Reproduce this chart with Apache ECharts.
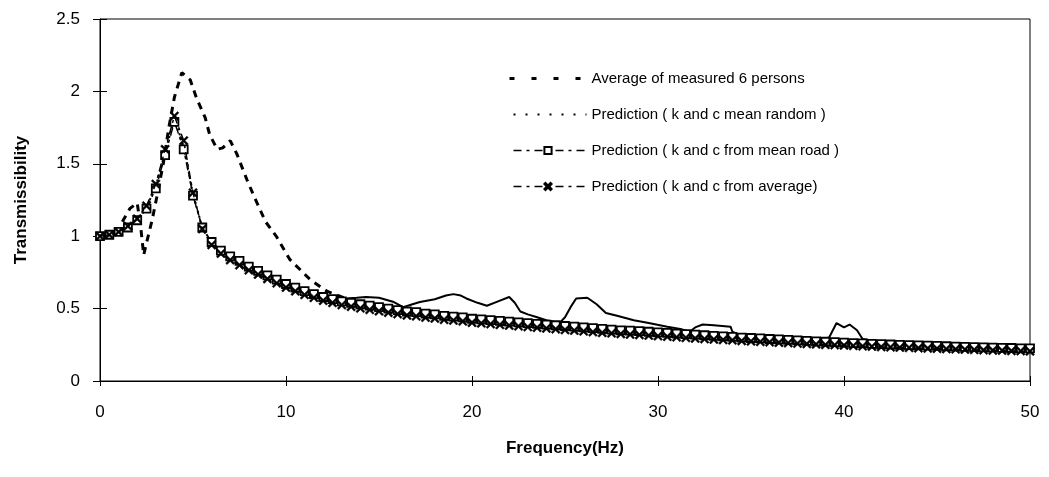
<!DOCTYPE html>
<html>
<head>
<meta charset="utf-8">
<title>Transmissibility</title>
<script src="https://cdn.jsdelivr.net/npm/echarts@6/dist/echarts.min.js"></script>
<style>
  html, body { margin: 0; padding: 0; background: #fff; }
  #chart { width: 1049px; height: 477px; }
</style>
</head>
<body>
<div id="chart"></div>
<script>
// Frequency grid (Hz) shared by the three predicted curves
const freq = [];
for (let i = 0; i <= 100; i++) freq.push(i / 2);

// Prediction (k and c mean random)
const predRandom = [
  1.00, 1.01, 1.03, 1.065, 1.115, 1.20, 1.345, 1.58, 1.81, 1.62,
  1.29, 1.06, 0.955, 0.895, 0.853, 0.82, 0.783, 0.752, 0.722, 0.692,
  0.662, 0.638, 0.612, 0.592, 0.572, 0.557, 0.542, 0.532, 0.522, 0.512,
  0.502, 0.492, 0.482, 0.472, 0.467, 0.457, 0.452, 0.442, 0.437, 0.432,
  0.422, 0.417, 0.412, 0.407, 0.402, 0.397, 0.392, 0.387, 0.382, 0.377,
  0.372, 0.367, 0.362, 0.357, 0.352, 0.347, 0.343, 0.340, 0.337, 0.333,
  0.329, 0.325, 0.321, 0.317, 0.313, 0.309, 0.305, 0.301, 0.298, 0.294,
  0.291, 0.288, 0.284, 0.281, 0.278, 0.275, 0.272, 0.269, 0.266, 0.263,
  0.260, 0.257, 0.255, 0.252, 0.250, 0.247, 0.245, 0.243, 0.241, 0.239,
  0.237, 0.235, 0.233, 0.231, 0.229, 0.227, 0.225, 0.224, 0.223, 0.221,
  0.220
];

// Prediction (k and c from mean road)
const predMeanRoad = [
  1.00, 1.01, 1.03, 1.06, 1.11, 1.19, 1.33, 1.56, 1.79, 1.60,
  1.28, 1.06, 0.96, 0.90, 0.86, 0.83, 0.79, 0.76, 0.73, 0.70,
  0.67, 0.645, 0.62, 0.60, 0.58, 0.565, 0.55, 0.54, 0.53, 0.52,
  0.51, 0.50, 0.49, 0.48, 0.475, 0.465, 0.46, 0.45, 0.445, 0.44,
  0.43, 0.425, 0.42, 0.415, 0.41, 0.405, 0.40, 0.395, 0.39, 0.385,
  0.38, 0.375, 0.37, 0.365, 0.36, 0.355, 0.35, 0.348, 0.345, 0.34,
  0.336, 0.332, 0.328, 0.324, 0.32, 0.316, 0.312, 0.308, 0.305, 0.30,
  0.297, 0.294, 0.29, 0.287, 0.284, 0.28, 0.277, 0.274, 0.271, 0.268,
  0.265, 0.262, 0.26, 0.257, 0.255, 0.252, 0.25, 0.248, 0.246, 0.244,
  0.242, 0.24, 0.238, 0.236, 0.234, 0.232, 0.23, 0.229, 0.228, 0.226,
  0.225
];

// Prediction (k and c from average)
const predAverage = [
  1.00, 1.01, 1.03, 1.07, 1.12, 1.21, 1.36, 1.60, 1.83, 1.66,
  1.30, 1.05, 0.94, 0.88, 0.835, 0.80, 0.765, 0.735, 0.705, 0.675,
  0.645, 0.62, 0.595, 0.575, 0.555, 0.54, 0.525, 0.513, 0.502, 0.492,
  0.482, 0.472, 0.462, 0.453, 0.447, 0.438, 0.432, 0.423, 0.418, 0.412,
  0.403, 0.398, 0.393, 0.388, 0.383, 0.378, 0.373, 0.368, 0.363, 0.358,
  0.353, 0.348, 0.343, 0.338, 0.333, 0.329, 0.325, 0.321, 0.318, 0.314,
  0.310, 0.306, 0.302, 0.298, 0.294, 0.290, 0.287, 0.284, 0.281, 0.277,
  0.274, 0.271, 0.268, 0.265, 0.262, 0.259, 0.256, 0.253, 0.250, 0.248,
  0.246, 0.243, 0.240, 0.238, 0.235, 0.233, 0.231, 0.229, 0.227, 0.225,
  0.223, 0.221, 0.219, 0.217, 0.215, 0.213, 0.211, 0.210, 0.208, 0.207,
  0.205
];

// Average of measured 6 persons: low-frequency part (coarse spectral lines)
const measuredLow = [
  [1.2, 1.10], [1.6, 1.19], [2.0, 1.23], [2.2, 1.05], [2.35, 0.87],
  [2.55, 0.98], [2.8, 1.11], [3.1, 1.30], [3.4, 1.50], [3.7, 1.75],
  [4.0, 1.96], [4.4, 2.13], [4.85, 2.08], [5.2, 1.95], [5.65, 1.82],
  [5.9, 1.70], [6.3, 1.60], [6.6, 1.61], [7.0, 1.66], [7.35, 1.57],
  [7.9, 1.39], [8.3, 1.27], [8.9, 1.10], [9.5, 0.995], [10.2, 0.84],
  [11.3, 0.70], [12.2, 0.62], [13.2, 0.57]
];

// Average of measured 6 persons: upper band (dense spectral lines)
const measuredHigh = [
  [13.2, 0.57], [13.8, 0.575], [14.3, 0.58], [15.0, 0.575], [15.8, 0.545],
  [16.3, 0.51], [16.8, 0.53], [17.2, 0.545], [18.0, 0.565], [18.6, 0.59],
  [19.0, 0.60], [19.4, 0.59], [19.7, 0.57], [20.3, 0.54], [20.8, 0.52],
  [21.4, 0.55], [22.0, 0.58], [22.3, 0.54], [22.6, 0.48], [23.0, 0.46],
  [23.5, 0.44], [24.0, 0.42], [24.7, 0.40], [25.0, 0.44], [25.3, 0.51],
  [25.6, 0.57], [26.2, 0.575], [26.7, 0.53], [27.2, 0.47], [27.8, 0.45],
  [28.7, 0.42], [29.5, 0.40], [30.5, 0.375], [31.2, 0.36], [31.7, 0.34],
  [32.0, 0.37], [32.4, 0.39], [33.0, 0.385], [33.9, 0.375], [34.0, 0.34],
  [34.5, 0.31], [35.5, 0.30], [36.5, 0.29], [37.5, 0.285], [38.5, 0.28],
  [39.2, 0.30], [39.6, 0.40], [40.0, 0.37], [40.3, 0.39], [40.7, 0.35],
  [41.0, 0.29], [42.0, 0.27], [43.0, 0.26], [44.0, 0.255], [45.0, 0.25],
  [46.0, 0.245], [47.0, 0.24], [48.0, 0.24], [49.0, 0.235], [50.0, 0.235]
];

const seriesNames = [
  'Average of measured 6 persons',
  'Prediction ( k and c mean random )',
  'Prediction ( k and c from mean road )',
  'Prediction ( k and c from average)'
];

const xTicks = { min: 0, max: 50, interval: 10 };
const yTicks = { min: 0, max: 2.5, interval: 0.5 };

const FONT = '"Liberation Sans", Arial, sans-serif';
const CROSS = 'path://M0,1.5 L1.5,0 L5,3.5 L8.5,0 L10,1.5 L6.5,5 L10,8.5 L8.5,10 L5,6.5 L1.5,10 L0,8.5 L3.5,5 Z';
const NO_MARK = { color: 'rgba(0,0,0,0)', borderWidth: 0, opacity: 0 };

const pairs = (ys) => freq.map((f, i) => [f, ys[i]]);

const chart = echarts.init(document.getElementById('chart'), null, { renderer: 'canvas' });

const axisCommon = {
  type: 'value',
  axisLine: { show: true, onZero: false, lineStyle: { color: '#000', width: 1 } },
  splitLine: { show: false }
};

chart.setOption({
  backgroundColor: '#fff',
  animation: false,
  textStyle: { fontFamily: FONT, color: '#000' },
  grid: {
    left: 100, right: 19, top: 19, bottom: 96,
    show: true, borderColor: '#000', borderWidth: 1, backgroundColor: 'transparent'
  },
  legend: {
    orient: 'vertical',
    left: 503, top: 66,
    itemWidth: 77, itemHeight: 9, itemGap: 21,
    textStyle: { fontSize: 15, color: '#000', fontFamily: FONT },
    data: [
      { name: seriesNames[0], lineStyle: { type: [5, 17], width: 3 }, itemStyle: NO_MARK },
      { name: seriesNames[1], lineStyle: { type: [2, 10], width: 2, dashOffset: -4 }, itemStyle: NO_MARK },
      { name: seriesNames[2], lineStyle: { type: [8, 5, 3, 5], width: 1.5 } },
      { name: seriesNames[3], lineStyle: { type: [8, 5, 3, 5], width: 1.5 } }
    ]
  },
  xAxis: [
    Object.assign({}, axisCommon, xTicks, {
      position: 'bottom',
      name: 'Frequency(Hz)', nameLocation: 'middle', nameGap: 59,
      nameTextStyle: { fontSize: 17, fontWeight: 'bold', color: '#000', fontFamily: FONT },
      axisTick: { show: true, length: 5, lineStyle: { color: '#000' } },
      axisLabel: { fontSize: 17, color: '#000', margin: 23, fontFamily: FONT }
    }),
    Object.assign({}, axisCommon, xTicks, {
      position: 'bottom',
      axisLine: { show: false },
      axisTick: { show: true, inside: true, length: 5, lineStyle: { color: '#000' } },
      axisLabel: { show: false }
    })
  ],
  yAxis: [
    Object.assign({}, axisCommon, yTicks, {
      position: 'left',
      name: 'Transmissibility', nameLocation: 'middle', nameGap: 70,
      nameTextStyle: { fontSize: 17, fontWeight: 'bold', color: '#000', fontFamily: FONT },
      axisTick: { show: true, length: 7, lineStyle: { color: '#000' } },
      axisLabel: { fontSize: 17, color: '#000', margin: 20, fontFamily: FONT }
    }),
    Object.assign({}, axisCommon, yTicks, {
      position: 'left',
      axisLine: { show: false },
      axisTick: { show: true, inside: true, length: 7, lineStyle: { color: '#000' } },
      axisLabel: { show: false }
    })
  ],
  series: [
    {
      name: seriesNames[0], type: 'line', data: measuredLow,
      symbol: 'none', z: 3,
      itemStyle: { color: '#000' },
      lineStyle: { color: '#000', width: 3, type: [7, 6] }
    },
    {
      name: seriesNames[0], type: 'line', data: measuredHigh,
      symbol: 'none', z: 3,
      itemStyle: { color: '#000' },
      lineStyle: { color: '#000', width: 2, type: 'solid' }
    },
    {
      name: seriesNames[1], type: 'line', data: pairs(predRandom),
      symbol: 'none', z: 4,
      itemStyle: { color: '#000' },
      lineStyle: { color: '#000', width: 2, type: [2, 3] }
    },
    {
      name: seriesNames[2], type: 'line', data: pairs(predMeanRoad),
      symbol: 'rect', symbolSize: 8, showAllSymbol: true, z: 5,
      lineStyle: { color: '#000', width: 1.5, type: [8, 4, 3, 4] },
      itemStyle: { color: '#fff', borderColor: '#000', borderWidth: 1.8 }
    },
    {
      name: seriesNames[3], type: 'line', data: pairs(predAverage),
      symbol: CROSS, symbolSize: 9, showAllSymbol: true, z: 6,
      lineStyle: { color: '#000', width: 1.5, type: [8, 4, 3, 4] },
      itemStyle: { color: '#000', borderColor: '#000', borderWidth: 0.5 }
    }
  ]
});
</script>
</body>
</html>
